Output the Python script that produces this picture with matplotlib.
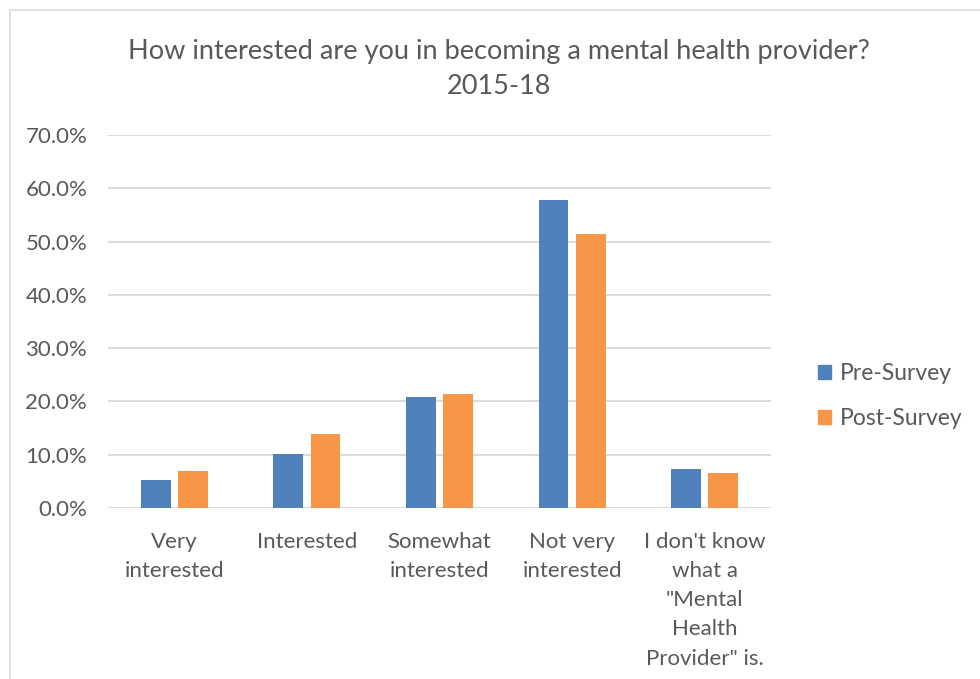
import matplotlib.pyplot as plt
from matplotlib.patches import Patch, Rectangle
from matplotlib.ticker import FuncFormatter
import numpy as np

plt.rcParams['font.family'] = ['Lato', 'DejaVu Sans']

PRE_COLOR = '#4F81BD'
POST_COLOR = '#F79646'
TEXT_GRAY = '#595959'
GRID_GRAY = '#D9D9D9'

categories = ['Very\ninterested', 'Interested', 'Somewhat\ninterested',
              'Not very\ninterested',
              'I don\'t know\nwhat a\n"Mental\nHealth\nProvider" is.']
pre_survey = [0.052, 0.102, 0.208, 0.578, 0.074]
post_survey = [0.070, 0.139, 0.214, 0.515, 0.066]
y_ticks = [0.0, 0.1, 0.2, 0.3, 0.4, 0.5, 0.6, 0.7]

fig = plt.figure(figsize=(9.8, 6.79), dpi=100)
fig.patch.set_facecolor('white')

# light chart-area frame
fig.patches.append(Rectangle((10 / 980, -0.1), 1.2, 1 - 10 / 679 + 0.1,
                             transform=fig.transFigure, fill=False,
                             edgecolor=GRID_GRAY, linewidth=1.2))

ax = fig.add_axes([108 / 980, 1 - 508 / 679, 663 / 980, 373 / 679])

x = np.arange(len(categories))
w = 0.225
ax.bar(x - 0.14, pre_survey, w, color=PRE_COLOR, zorder=3)
ax.bar(x + 0.14, post_survey, w, color=POST_COLOR, zorder=3)

ax.set_xlim(-0.5, len(categories) - 0.5)
ax.set_ylim(0, 0.7)
ax.set_yticks(y_ticks)
ax.yaxis.set_major_formatter(FuncFormatter(lambda v, p: f'{v * 100:.1f}%'))
ax.set_xticks(x)
ax.set_xticklabels(categories, linespacing=1.58)

for v in y_ticks:
    ax.axhline(v, color=GRID_GRAY, linewidth=1.3, zorder=1)

for spine in ax.spines.values():
    spine.set_visible(False)
ax.tick_params(axis='both', length=0, colors=TEXT_GRAY, labelsize=16)
ax.tick_params(axis='y', pad=15)
ax.tick_params(axis='x', pad=17)

fig.text(499 / 980, 1 - 51 / 679, 'How interested are you in becoming a mental health provider?',
         ha='center', va='center', fontsize=19.5, color=TEXT_GRAY)
fig.text(499 / 980, 1 - 87 / 679, '2015-18',
         ha='center', va='center', fontsize=19.5, color=TEXT_GRAY)

handles = [Patch(color=PRE_COLOR, label='Pre-Survey'),
           Patch(color=POST_COLOR, label='Post-Survey')]
fig.legend(handles=handles, loc='center left', bbox_to_anchor=(797 / 980, 1 - 396 / 679),
           frameon=False, fontsize=16.5, handlelength=0.6, handleheight=0.6,
           handletextpad=0.35, labelspacing=1.05, labelcolor=TEXT_GRAY)

fig.savefig('out.png', dpi=100, facecolor='white')
